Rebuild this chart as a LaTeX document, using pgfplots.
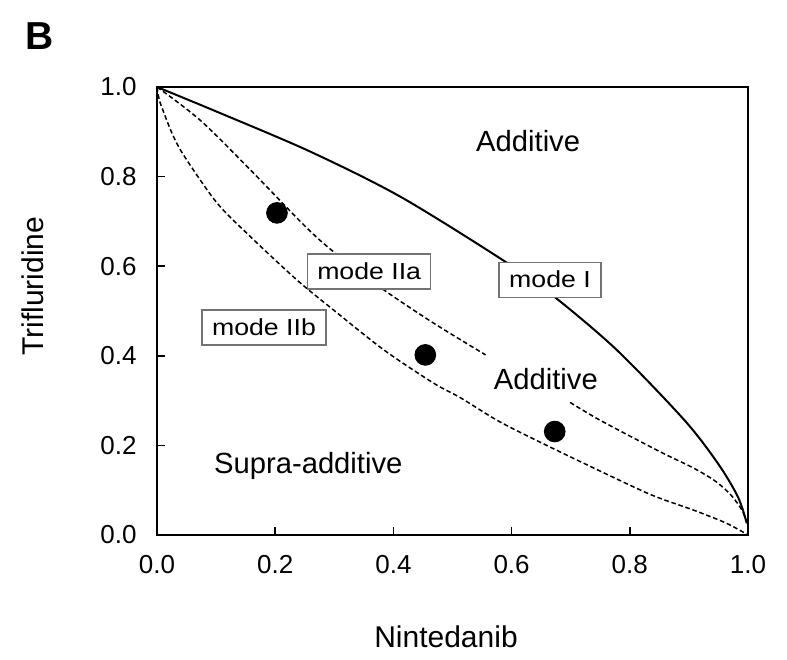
\documentclass[border=0pt]{standalone}
\usepackage{fontspec}
\setmainfont{Liberation Sans}
\newfontfamily\modefont[FakeStretch=1.15]{Liberation Sans}
\usepackage{pgfplots}
\pgfplotsset{compat=1.18}

\tikzset{
  modebox/.style={draw=black!55, line width=0.6pt, fill=white, inner xsep=0pt,
    minimum height=17.5pt, align=center, font=\modefont\fontsize{11.6}{13}\selectfont},
  region/.style={anchor=base, font=\fontsize{14.6}{17}\selectfont},
}

\begin{document}
\begin{tikzpicture}
\begin{axis}[
  name=ax,
  scale only axis,
  width=295.5pt, height=224pt,
  xmin=0, xmax=1, ymin=0, ymax=1,
  xtick={0,0.2,0.4,0.6,0.8,1},
  ytick={0,0.2,0.4,0.6,0.8,1},
  tick pos=left,
  tick align=inside,
  major tick length=4pt,
  tick style={black, line width=0.75pt},
  axis line style={line width=0.75pt},
  /pgf/number format/assume math mode=true,
  /pgf/number format/fixed,
  /pgf/number format/fixed zerofill,
  /pgf/number format/precision=1,
  ticklabel style={font=\fontsize{13}{15}\selectfont},
  xticklabel style={yshift=-6.5pt},
  yticklabel style={xshift=-6.7pt},
  xlabel={Nintedanib},
  ylabel={Trifluridine},
  label style={font=\fontsize{15}{18}\selectfont},
  xlabel style={at={(axis description cs:0.489,-0.25)}, anchor=base},
  ylabel style={at={(axis description cs:-0.192,0.555)}, anchor=base},
]
% mode I (solid)
\addplot[black, line width=1pt, smooth] coordinates {
  (0,1) (0.101,0.945) (0.259,0.856) (0.412,0.755) (0.587,0.612)
  (0.673,0.531) (0.778,0.413) (0.892,0.257) (0.949,0.16) (0.983,0.085) (0.998,0.026)
};
% mode IIa (dashed, two pieces)
\addplot[black, line width=0.75pt, dash pattern=on 2.3pt off 1.4pt, smooth] coordinates {
  (0,1) (0.073,0.926) (0.158,0.815) (0.25,0.69) (0.299,0.632)
  (0.384,0.547) (0.468,0.473) (0.556,0.402)
};
\addplot[black, line width=0.75pt, dash pattern=on 2.3pt off 1.4pt, smooth] coordinates {
  (0.699,0.296) (0.75,0.256) (0.851,0.186) (0.907,0.150) (0.945,0.12)
  (0.972,0.088) (0.99,0.055) (0.998,0.028)
};
% mode IIb (dashed)
\addplot[black, line width=0.75pt, dash pattern=on 2.3pt off 1.4pt, smooth] coordinates {
  (0,1) (0.004,0.97) (0.011,0.945) (0.025,0.898) (0.045,0.848) (0.101,0.742) (0.158,0.666) (0.237,0.569)
  (0.299,0.502) (0.384,0.413) (0.468,0.339) (0.514,0.306) (0.581,0.252)
  (0.675,0.19) (0.807,0.107) (0.851,0.082) (0.907,0.056) (0.964,0.026) (1,0)
};
% combination points
\addplot[only marks, mark=*, mark size=5.2pt, black] coordinates {
  (0.203,0.719) (0.454,0.402) (0.673,0.231)
};
\node[modebox, minimum width=61.5pt] at (axis cs:0.359,0.588) {mode IIa};
\node[modebox, minimum width=51pt] at (axis cs:0.665,0.570) {mode I};
\node[modebox, minimum width=62pt] at (axis cs:0.181,0.463) {mode IIb};
\node[region] at (axis cs:0.628,0.855) {Additive};
\node[region] at (axis cs:0.658,0.324) {Additive};
\node[region] at (axis cs:0.256,0.138) {Supra-additive};
\end{axis}
\pgfresetboundingbox
\path[use as bounding box] ([shift={(-78.5pt,-62pt)}]ax.south west) rectangle +(393.5pt,329.5pt);
\node[anchor=base west, font=\bfseries\fontsize{19.5}{22}\selectfont, inner sep=0pt]
  at ([shift={(-66pt,18.5pt)}]ax.north west) {B};
\end{tikzpicture}
\end{document}
